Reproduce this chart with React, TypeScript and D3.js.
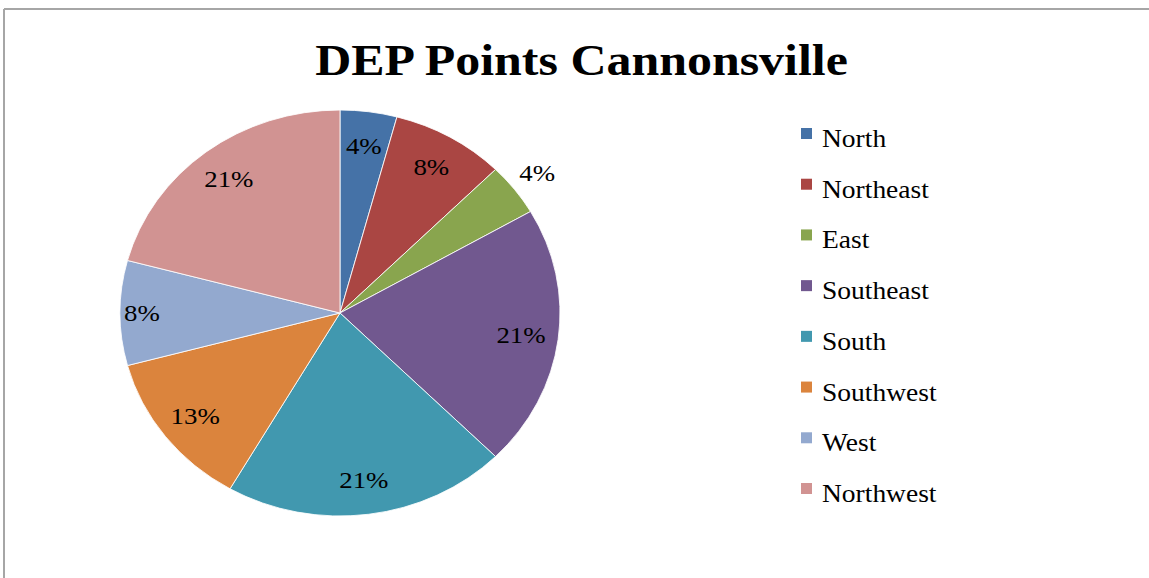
import React from "react";
import * as d3 from "d3";

const categories = ["North", "Northeast", "East", "Southeast", "South", "Southwest", "West", "Northwest"];
const counts = [1, 2, 1, 5, 5, 3, 2, 5];
const colors = ["#4572A7", "#AA4643", "#89A54E", "#71588F", "#4198AF", "#DB843D", "#93A9CF", "#D19392"];
const title = "DEP Points Cannonsville";

const W = 1149;
const H = 578;
const cx = 340;
const cy = 313;
const R = 203;
const sx = 220 / 203;
const FONT = "'Liberation Serif', 'Times New Roman', serif";

function StretchText(props: { x: number; y: number; sx: number; anchor?: string; size: number; bold?: boolean; baseline?: string; children: React.ReactNode }) {
  return (
    <text
      transform={`translate(${props.x},${props.y}) scale(${props.sx},1)`}
      textAnchor={props.anchor || "start"}
      dominantBaseline={props.baseline || "auto"}
      fontFamily={FONT}
      fontWeight={props.bold ? "bold" : "normal"}
      fontSize={props.size}
      fill="#000"
    >
      {props.children}
    </text>
  );
}

export default function App() {
  const total = d3.sum(counts);
  const fmt = d3.format(".0%");
  const pie = d3.pie<number>().sort(null).value((d) => d).startAngle(0).endAngle(2 * Math.PI);
  const arcs = pie(counts);
  const arc = d3.arc<d3.PieArcDatum<number>>().innerRadius(0).outerRadius(R);

  const labelFrac = (i: number) => {
    if (categories[i] === "East") return 1.13;
    if (categories[i] === "West") return 0.9;
    return 0.83;
  };

  const legendY = d3.scalePoint<string>().domain(categories).range([147, 502]);

  return (
    <svg width={W} height={H} style={{ position: "absolute", left: 0, top: 0, background: "#fff" }}>
      <rect x={0} y={0} width={W} height={H} fill="#fff" />
      <line x1={4} y1={9} x2={W} y2={9} stroke="#a6a6a6" strokeWidth={2} />
      <line x1={4} y1={9} x2={4} y2={H} stroke="#a6a6a6" strokeWidth={2} />
      <StretchText x={581.5} y={75} sx={1.11} anchor="middle" size={45} bold>
        {title}
      </StretchText>
      <g transform={`translate(${cx},${cy}) scale(${sx},1)`}>
        {arcs.map((a, i) => (
          <path key={i} d={arc(a) || ""} fill={colors[i]} stroke="#fff" strokeWidth={0.8} />
        ))}
      </g>
      {arcs.map((a, i) => {
        const mid = (a.startAngle + a.endAngle) / 2;
        const r = labelFrac(i) * R;
        const x = cx + Math.sin(mid) * r * sx;
        const y = cy - Math.cos(mid) * r;
        return (
          <StretchText key={i} x={x} y={y} sx={1.12} anchor="middle" size={24} baseline="central">
            {fmt(counts[i] / total)}
          </StretchText>
        );
      })}
      {categories.map((c, i) => {
        const y = legendY(c) as number;
        return (
          <g key={c}>
            <rect x={801} y={y - 19} width={11} height={11} fill={colors[i]} />
            <StretchText x={822} y={y} sx={1.1} size={25}>
              {c}
            </StretchText>
          </g>
        );
      })}
    </svg>
  );
}
